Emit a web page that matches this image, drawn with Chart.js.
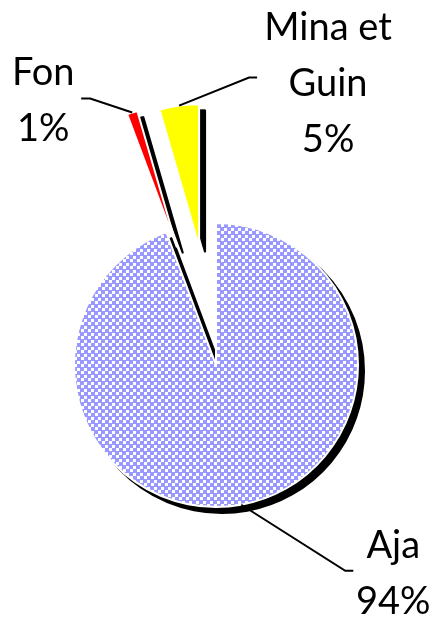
<!DOCTYPE html>
<html><head><meta charset="utf-8">
<script src="https://cdn.jsdelivr.net/npm/chart.js@4.4.0/dist/chart.umd.min.js"></script>
<style>html,body{margin:0;padding:0;background:#fff;overflow:hidden}canvas{display:block}</style>
</head><body>
<canvas id="c" width="430" height="618"></canvas>
<script>
// ---- data ----
const categories = ['Aja', 'Fon', 'Mina et Guin'];
const categoryLines = [['Aja'], ['Fon'], ['Mina et', 'Guin']];
const values = [94.3, 1.2, 4.5];
const percentLabels = ['94%', '1%', '5%'];

// ---- checkered fill for Aja ----
function checker() {
  const pc = document.createElement('canvas');
  pc.width = 7; pc.height = 7;
  const g = pc.getContext('2d');
  g.fillStyle = '#9999ff'; g.fillRect(0, 0, 7, 7);
  g.fillStyle = '#ffffff';
  g.fillRect(4, 0, 3, 3);
  g.fillRect(0, 4, 3, 3);
  return g.createPattern(pc, 'repeat');
}

const explodePlugin = {
  id: 'explodeShadow',
  afterUpdate(chart, args, opts) {
    const meta = chart.getDatasetMeta(0);
    meta.data.forEach((el, i) => {
      if (el._exploded) return;
      const orig = el.draw.bind(el);
      el.draw = function (ctx) {
        const e = (opts.explode || [])[i] || 0;
        const h = (this.startAngle + this.endAngle) / 2;
        const dx = Math.cos(h) * e, dy = Math.sin(h) * e;
        const far = 3000;
        // shadow pass: shape drawn off-canvas, only its black shadow lands on the chart
        ctx.save();
        ctx.translate(dx - far, dy);
        ctx.shadowColor = '#000000';
        ctx.shadowOffsetX = far + opts.shadow[0];
        ctx.shadowOffsetY = opts.shadow[1];
        ctx.shadowBlur = 0;
        orig(ctx);
        ctx.restore();
        // normal pass
        ctx.save();
        ctx.translate(dx, dy);
        orig(ctx);
        ctx.restore();
      };
      el._exploded = true;
    });
  }
};

const leaderPlugin = {
  id: 'leaders',
  afterDraw(chart, args, opts) {
    const ctx = chart.ctx;
    const meta = chart.getDatasetMeta(0);
    const explode = chart.options.plugins.explodeShadow.explode;
    ctx.save();
    meta.data.forEach((arc, i) => {
      const p = arc.getProps(['x', 'y', 'startAngle', 'endAngle', 'outerRadius']);
      const mid = (p.startAngle + p.endAngle) / 2;
      const R = p.outerRadius + (explode[i] || 0);
      const ax = p.x + Math.cos(mid) * R;
      const ay = p.y + Math.sin(mid) * R;
      const L = opts.layout[i];
      const ex = ax + L.elbow[0], ey = ay + L.elbow[1];
      const tx = ex + L.tick;
      ctx.strokeStyle = '#000';
      ctx.lineWidth = 2;
      ctx.beginPath();
      ctx.moveTo(ax, ay); ctx.lineTo(ex, ey); ctx.lineTo(tx, ey);
      ctx.stroke();
      ctx.fillStyle = '#000';
      ctx.font = opts.font;
      ctx.textAlign = 'center';
      ctx.textBaseline = 'alphabetic';
      const lines = categoryLines[i].concat([percentLabels[i]]);
      const cx = tx + L.text[0];
      let by = ey + L.text[1];
      lines.forEach(s => { ctx.fillText(s, cx, by); by += opts.lineHeight; });
    });
    ctx.restore();
  }
};

new Chart(document.getElementById('c'), {
  type: 'pie',
  data: {
    labels: categories,
    datasets: [{
      data: values,
      backgroundColor: [checker(), '#ff0000', '#ffff00'],
      borderColor: '#ffffff',
      borderWidth: 2
    }]
  },
  options: {
    responsive: false,
    animation: false,
    radius: 142,
    layout: { padding: { left: 2, right: 0, top: 112, bottom: 0 } },
    plugins: {
      legend: { display: false },
      tooltip: { enabled: false },
      explodeShadow: { explode: [0, 124, 120], shadow: [6, 6] },
      leaders: {
        font: '38px Lato',
        lineHeight: 56,
        layout: [
          { elbow: [104, 66], tick: 8, text: [40, -13] },
          { elbow: [-42, -14], tick: -9, text: [-38, -14] },
          { elbow: [70, -28], tick: 8, text: [71, -38] }
        ]
      }
    }
  },
  plugins: [explodePlugin, leaderPlugin]
});
</script>
</body></html>
